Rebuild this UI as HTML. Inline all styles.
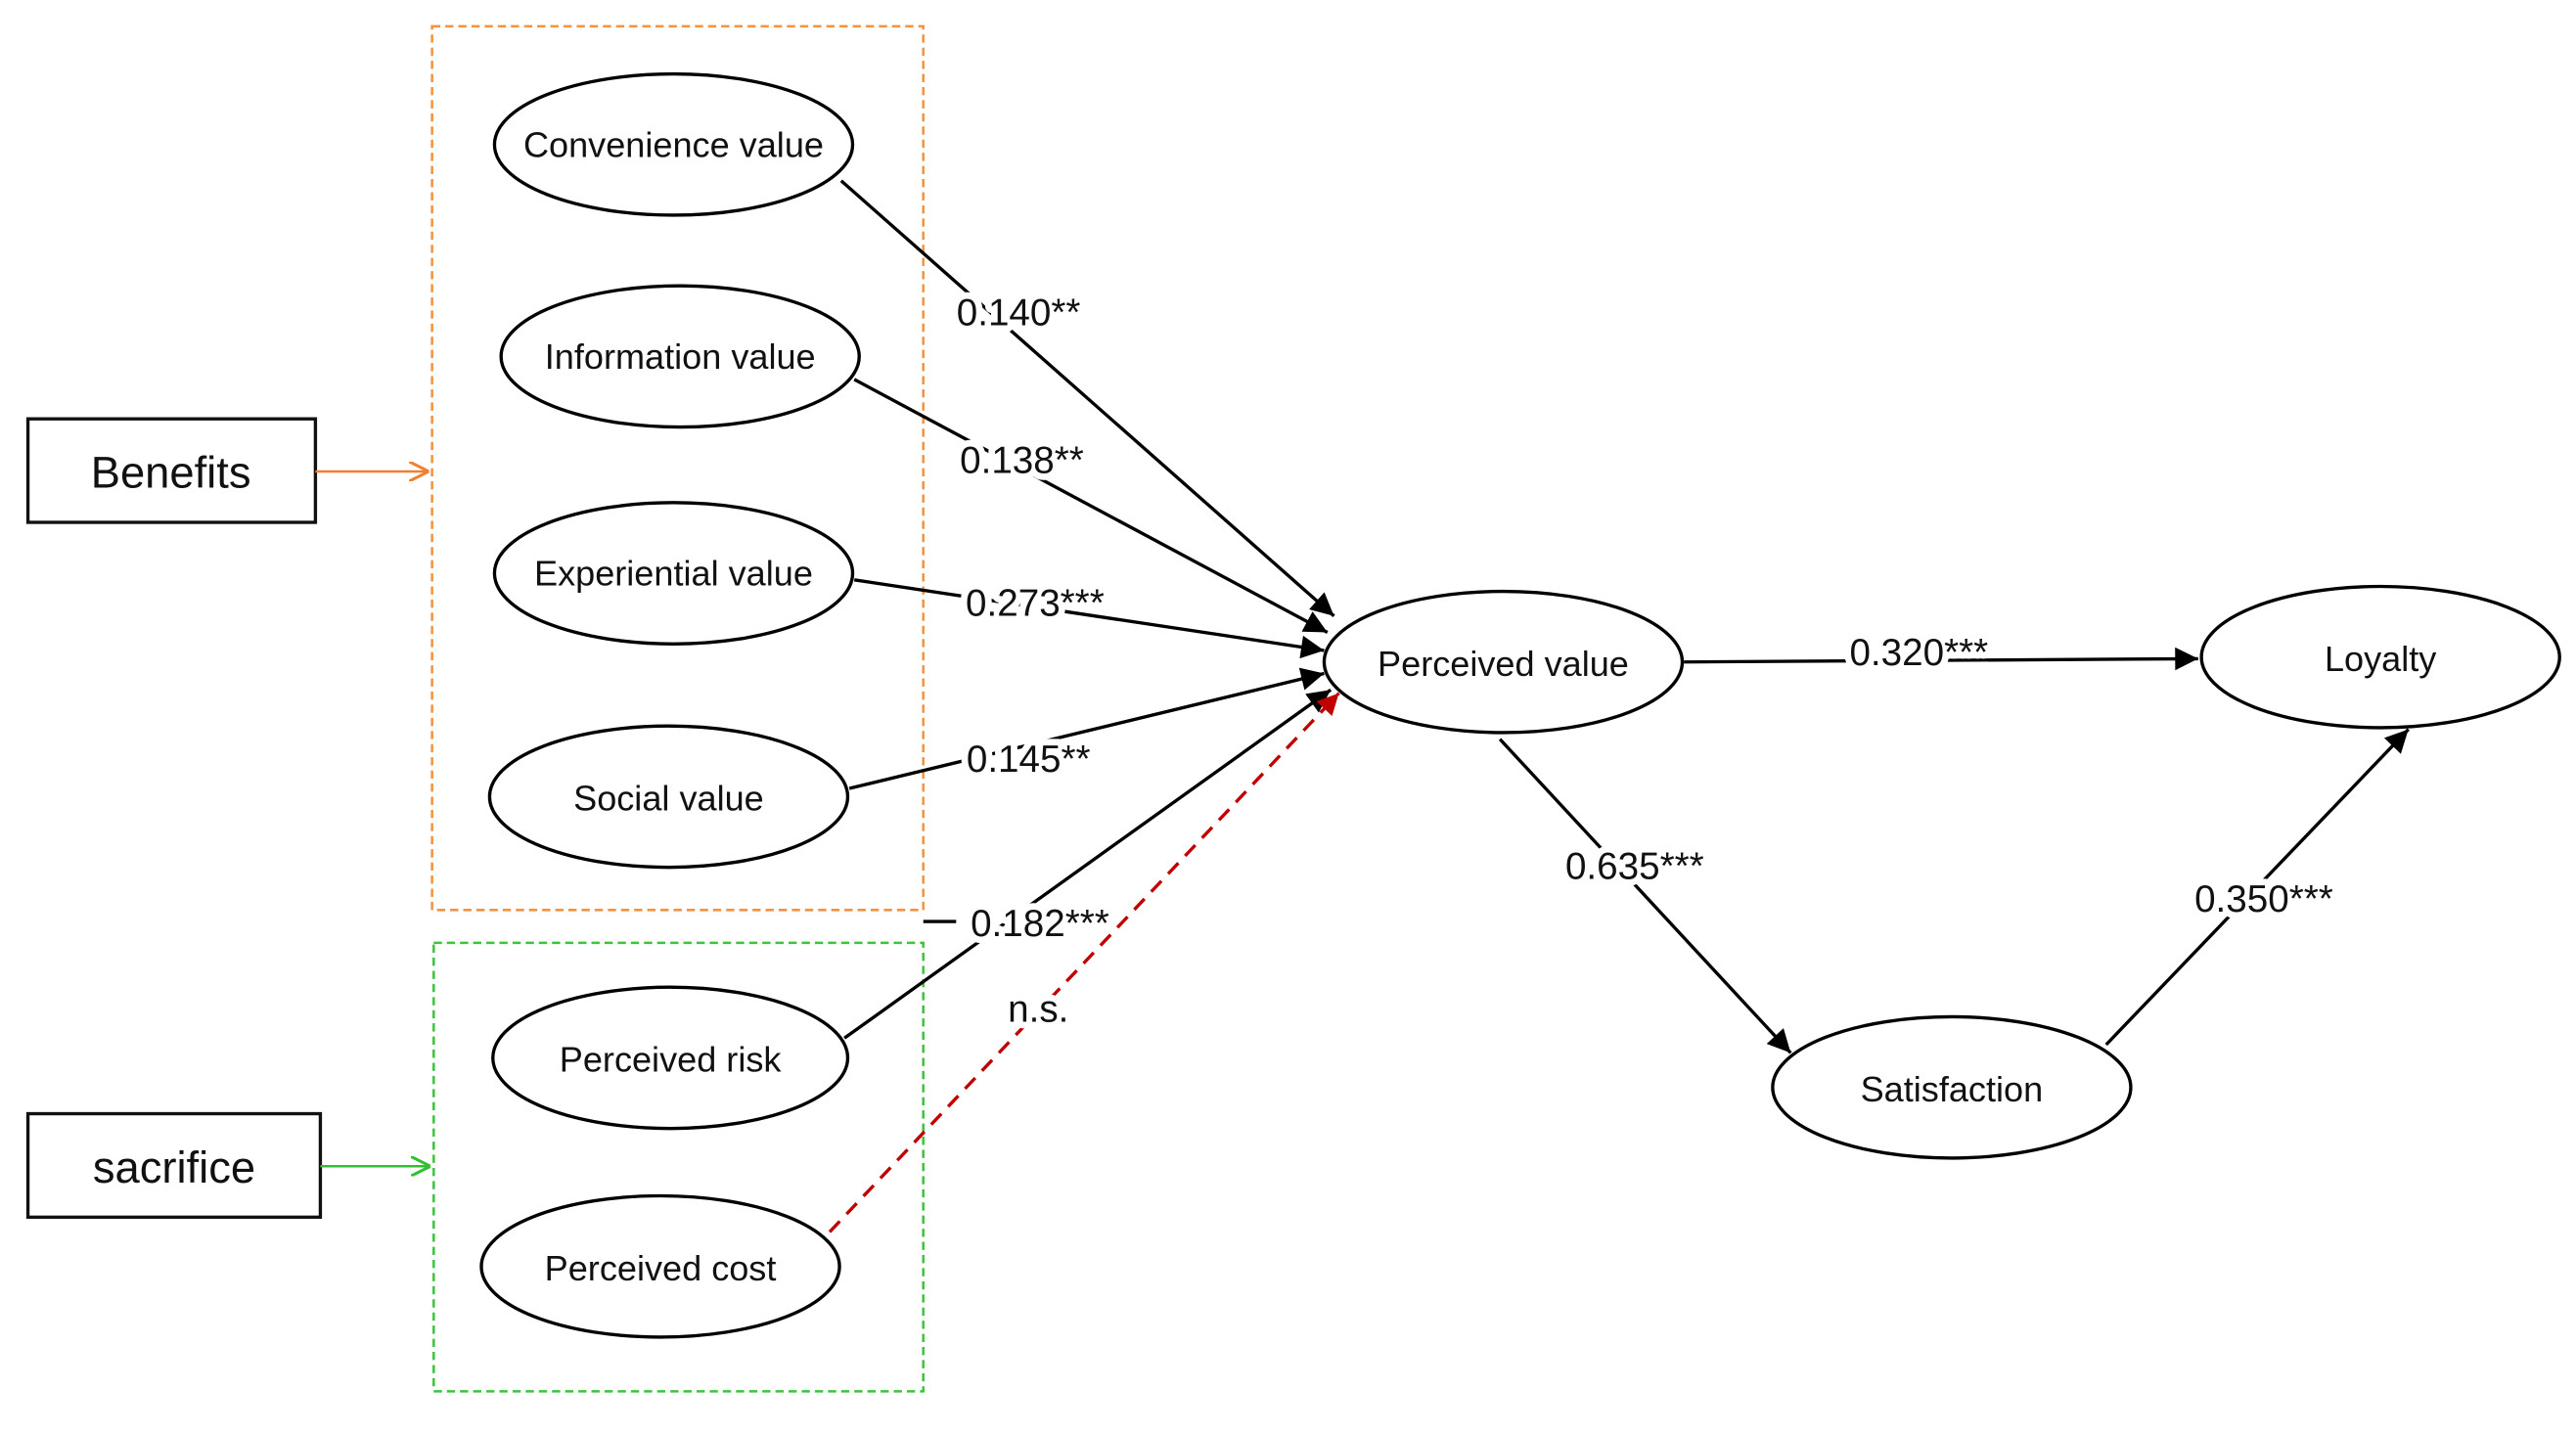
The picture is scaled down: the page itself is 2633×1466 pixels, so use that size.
<!DOCTYPE html>
<html><head><meta charset="utf-8"><style>
html,body{margin:0;padding:0;background:#fff;}
svg{display:block;}
text{font-family:"Liberation Sans",Arial,sans-serif;fill:#111;}
.lbl{font-size:23px;text-anchor:middle;paint-order:stroke;stroke:#fff;stroke-width:8px;stroke-linejoin:round;}
.nd{font-size:21.5px;text-anchor:middle;dominant-baseline:central;}
</style></head><body>
<svg width="2633" height="1466" viewBox="0 0 1568 873" preserveAspectRatio="none" xmlns="http://www.w3.org/2000/svg">
<defs>
<marker id="a" viewBox="0 0 10 10" refX="10" refY="5" markerWidth="26" markerHeight="14" markerUnits="userSpaceOnUse" orient="auto"><path d="M0,0L10,5L0,10z" fill="#000"/></marker>
<marker id="r" viewBox="0 0 10 10" refX="10" refY="5" markerWidth="24" markerHeight="13" markerUnits="userSpaceOnUse" orient="auto"><path d="M0,0L10,5L0,10z" fill="#c00000"/></marker>
<marker id="o" viewBox="0 0 10 10" refX="10" refY="5" markerWidth="12" markerHeight="12" markerUnits="userSpaceOnUse" orient="auto"><path d="M0,0L10,5L0,10" fill="none" stroke="#f08030" stroke-width="1.5"/></marker>
<marker id="g" viewBox="0 0 10 10" refX="10" refY="5" markerWidth="12" markerHeight="12" markerUnits="userSpaceOnUse" orient="auto"><path d="M0,0L10,5L0,10" fill="none" stroke="#30c030" stroke-width="1.5"/></marker>
</defs>
<rect x="263" y="16" width="299" height="538" fill="none" stroke="#f5923e" stroke-width="1.5" stroke-dasharray="5,3"/>
<rect x="264" y="574" width="298" height="273" fill="none" stroke="#3cc43c" stroke-width="1.5" stroke-dasharray="5,3"/>
<rect x="17" y="255" width="175" height="63" fill="none" stroke="#111" stroke-width="2"/>
<text x="104" y="297" style="font-size:27px;text-anchor:middle">Benefits</text>
<rect x="17" y="678" width="178" height="63" fill="none" stroke="#111" stroke-width="2"/>
<text x="106" y="720" style="font-size:27px;text-anchor:middle">sacrifice</text>
<line x1="192" y1="287" x2="261" y2="287" stroke="#f08030" stroke-width="1.5" marker-end="url(#o)"/>
<line x1="195" y1="710" x2="262" y2="710" stroke="#30c030" stroke-width="1.5" marker-end="url(#g)"/>
<g stroke="#000" stroke-width="2" fill="none">
<line x1="512" y1="110" x2="812" y2="375" marker-end="url(#a)"/>
<line x1="520" y1="231" x2="808" y2="385" marker-end="url(#a)"/>
<line x1="520" y1="353" x2="806" y2="396" marker-end="url(#a)"/>
<line x1="517" y1="480" x2="806" y2="410" marker-end="url(#a)"/>
<line x1="514" y1="632" x2="810" y2="420" marker-end="url(#a)"/>
<line x1="562" y1="561" x2="582" y2="561"/>
<line x1="1025" y1="403" x2="1338" y2="401" marker-end="url(#a)"/>
<line x1="913" y1="450" x2="1090" y2="641" marker-end="url(#a)"/>
<line x1="1282" y1="636" x2="1466" y2="444" marker-end="url(#a)"/>
</g>
<line x1="505" y1="750" x2="815" y2="422" stroke="#c00000" stroke-width="2" stroke-dasharray="9,6" marker-end="url(#r)"/>
<g fill="#fff" stroke="#000" stroke-width="2">
<ellipse cx="410" cy="88" rx="109" ry="43"/>
<ellipse cx="414" cy="217" rx="109" ry="43"/>
<ellipse cx="410" cy="349" rx="109" ry="43"/>
<ellipse cx="407" cy="485" rx="109" ry="43"/>
<ellipse cx="408" cy="644" rx="108" ry="43"/>
<ellipse cx="402" cy="771" rx="109" ry="43"/>
<ellipse cx="915" cy="403" rx="109" ry="43"/>
<ellipse cx="1449" cy="400" rx="109" ry="43"/>
<ellipse cx="1188" cy="662" rx="109" ry="43"/>
</g>
<text class="nd" x="410" y="88">Convenience value</text>
<text class="nd" x="414" y="217">Information value</text>
<text class="nd" x="410" y="349">Experiential value</text>
<text class="nd" x="407" y="486">Social value</text>
<text class="nd" x="408" y="645">Perceived risk</text>
<text class="nd" x="402" y="772">Perceived cost</text>
<text class="nd" x="915" y="404">Perceived value</text>
<text class="nd" x="1449" y="401">Loyalty</text>
<text class="nd" x="1188" y="663">Satisfaction</text>
<text class="lbl" x="620" y="198">0.140**</text>
<text class="lbl" x="622" y="288">0.138**</text>
<text class="lbl" x="630" y="375">0.273***</text>
<text class="lbl" x="626" y="470">0.145**</text>
<text class="lbl" x="633" y="570">0.182***</text>
<text class="lbl" x="632" y="622">n.s.</text>
<text class="lbl" x="1168" y="405">0.320***</text>
<text class="lbl" x="995" y="535">0.635***</text>
<text class="lbl" x="1378" y="555">0.350***</text>
</svg>
</body></html>
